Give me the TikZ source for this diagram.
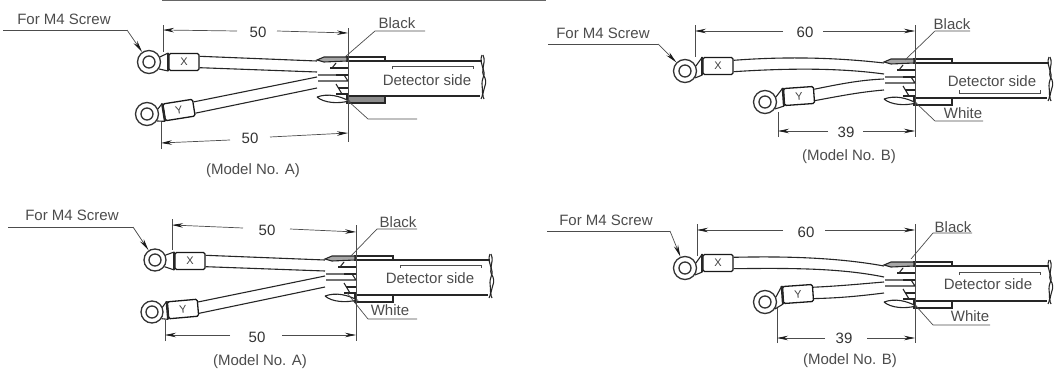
\documentclass[tikz,border=0pt]{standalone}
\usepackage{fontspec}
\setmainfont{Liberation Sans}
\usetikzlibrary{arrows.meta}
\tikzset{
  wire/.style={line width=1.1pt,black!85},
  neck/.style={line width=2.2pt,black!85},
  thin line/.style={line width=0.8pt,black!70},
  dim/.style={line width=0.7pt,black!70,-{Stealth[length=11pt,width=4.5pt,black!90]}},
  ext/.style={line width=0.7pt,black!70},
  lead/.style={line width=0.7pt,black!70},
  screwlead/.style={lead,-{Stealth[length=12pt,width=4.5pt,black!90]}},
  txt/.style={font=\fontsize{15}{17}\selectfont,text=black!70,inner sep=0pt},
  lentxt/.style={txt,font=\fontsize{15}{17}\selectfont,text=black!80},
  ringnode/.style={circle,draw=black!80,line width=1.3pt,minimum size=#1,inner sep=0pt,fill=white},
  tube/.style={draw=black!90,line width=1.3pt,rounded corners=1.5pt,fill=white,minimum width=30pt,minimum height=17pt,inner sep=0pt,font=\fontsize{11}{12}\selectfont,text=black!75},
  pics/detectorend/.style n args={3}{code={
    \draw[wire,fill=white] (-1,-3) -- (37,-3) -- (37,1) -- (-1,1) -- cycle;
    \draw[wire,fill=#1] (-1,36) -- (37,36) -- (37,43) -- (-1,43) -- cycle;
    \draw[wire,line width=1.3pt] (37,1) -- (134,1);
    \draw[wire,line width=1.5pt] (37,36) -- (132,36);
    \draw[thin line] (44,#2+#3) -- (44,#2) -- (125,#2) -- (125,#2+#3);
    % crimps
    \draw[wire,fill=black!35] (-31,0) -- (-24,-3) -- (-1,-3) -- (-1,1) -- (-24,2) -- cycle;
    \draw[wire,fill=white] (-31,37) .. controls (-20,33) and (-8,36) .. (1,41) .. controls (-10,44) and (-24,43) .. (-31,37);
    \draw[wire] (-30,15) -- (-4,15) -- (0,21) -- (-30,21);
    \draw[wire] (-18,8) -- (0,8) (-12,15) -- (0,15) (-10,28) -- (0,28) (-12,34) -- (0,34);
    \draw[wire] (-12,3) -- (-16,8) (-12,24) -- (-6,34);
    % break of the cable
    \draw[wire] (134,-5) .. controls (130,4) and (139,10) .. (135,18) .. controls (132,26) and (137,32) .. (133,39);
    \draw[wire] (135,-5) .. controls (139,4) and (131,10) .. (137,18) .. controls (140,26) and (132,32) .. (136,39);
    \coordinate (-xtop) at (-31,1);
    \coordinate (-xbot) at (-31,12);
    \coordinate (-ytop) at (-31,17);
    \coordinate (-ybot) at (-31,28);
  }},
}
\begin{document}
\begin{tikzpicture}[x=1pt,y=-1pt]
\useasboundingbox (0,0) rectangle (1060,372);
\draw[black!60,line width=0.6pt] (162,0.4) -- (546,0.4);

% top left, model A
\node[txt] (screwa) at (64,19) {For M4 Screw};
\coordinate (screwastart) at (3,30);
\coordinate (screwabend) at (127,30);
\node[ringnode=23pt] (ringxa) at (149,62) {};
\node[ringnode=12pt] at (ringxa) {};
\node[ringnode=23pt] (ringya) at (147,114) {};
\node[ringnode=12pt] at (ringya) {};
\node[tube] (tubexa) at (184,62) {X};
\node[tube,rotate=9] (tubeya) at (179,110) {Y};
\draw[wire] (ringxa.25) -- (tubexa.150) (ringxa.-35) -- (tubexa.210);
\draw[wire] (ringya.25) -- (tubeya.150) (ringya.-35) -- (tubeya.210);
\draw[neck] (tubexa.north west) -- (tubexa.south west);
\draw[neck] (tubeya.north west) -- (tubeya.south west);
\pic (conna) at (348,60) {detectorend={black!45}{6}{3}};
\node[txt] (sidea) at (427,80) {Detector side};
\draw[wire] (tubexa.20) -- (conna-xtop);
\draw[wire] (tubexa.-20) -- (conna-xbot);
\draw[wire] (tubeya.20) -- (conna-ytop);
\draw[wire] (tubeya.-20) -- (conna-ybot);
\coordinate (dima1) at (163,30);
\coordinate (dima2) at (348,33);
\coordinate (dima3) at (161,143);
\coordinate (dima4) at (348,133);
\draw[ext] (dima1) ++(0,-5) -- (163,52);
\draw[ext] (348,28) -- (348,142);
\draw[ext] (dima3) ++(0,6) -- (161,122);
\node[lentxt] (lena) at (258,32) {50};
\node[lentxt] (lenb) at (250,138) {50};
\draw[dim] (237,31) -- (dima1);
\draw[dim] (277,31) -- (dima2);
\draw[dim] (230,140) -- (dima3);
\draw[dim] (270,137) -- (dima4);
\node[txt] (blacka) at (397,23) {Black};
\coordinate (blackastart) at (345,57);
\coordinate (blackabend) at (375,31);
\coordinate (blackaend) at (425,31);
\coordinate (whiteastart) at (347,100);
\coordinate (whiteabend) at (368,119);
\coordinate (whiteaend) at (417,119);
\draw[lead] (blackastart) -- (blackabend) -- (blackaend);
\draw[lead] (whiteastart) -- (whiteabend) -- (whiteaend);
\draw[lead] (screwastart) -- (screwabend);
\draw[screwlead] (screwabend) -- (ringxa);
\node[txt] (modela) at (253,171) {(Model No. A)};

% top right, model B
\node[txt] (screwb) at (603,33) {For M4 Screw};
\coordinate (screwbstart) at (548,44);
\coordinate (screwbbend) at (658,44);
\node[ringnode=23pt] (ringxb) at (685,71) {};
\node[ringnode=12pt] at (ringxb) {};
\node[ringnode=23pt] (ringyb) at (765,102) {};
\node[ringnode=12pt] at (ringyb) {};
\node[tube] (tubexb) at (718,66) {X};
\node[tube,rotate=4] (tubeyb) at (799,96) {Y};
\draw[wire] (ringxb.25) -- (tubexb.150) (ringxb.-35) -- (tubexb.210);
\draw[wire] (ringyb.25) -- (tubeyb.150) (ringyb.-35) -- (tubeyb.210);
\draw[neck] (tubexb.north west) -- (tubexb.south west);
\draw[neck] (tubeyb.north west) -- (tubeyb.south west);
\pic (connb) at (915,62) {detectorend={white}{31}{-3}};
\node[txt] (sideb) at (992,81) {Detector side};
\draw[wire] (tubexb.20) .. controls (790,56) and (840,58) .. (connb-xtop);
\draw[wire] (tubexb.-20) .. controls (790,68) and (840,68) .. (connb-xbot);
\draw[wire] (tubeyb.20) .. controls (840,84) and (860,80) .. (connb-ytop);
\draw[wire] (tubeyb.-20) .. controls (840,96) and (860,92) .. (connb-ybot);
\coordinate (dimb1) at (695,31);
\coordinate (dimb2) at (915,31);
\coordinate (dimb3) at (778,131);
\coordinate (dimb4) at (915,131);
\draw[ext] (dimb1) ++(0,-6) -- (695,57);
\draw[ext] (dimb2) ++(0,-6) -- (915,137);
\draw[ext] (dimb3) ++(0,6) -- (778,112);
\node[lentxt] (lenc) at (805,32) {60};
\node[lentxt] (lend) at (846,132) {39};
\draw[dim] (783,31) -- (dimb1);
\draw[dim] (823,31) -- (dimb2);
\draw[dim] (828,131) -- (dimb3);
\draw[dim] (863,131) -- (dimb4);
\node[txt] (blackb) at (952,24) {Black};
\coordinate (blackbstart) at (905,60);
\coordinate (blackbbend) at (935,31);
\coordinate (blackbend) at (970,31);
\node[txt] (whiteb) at (963,113) {White};
\coordinate (whitebstart) at (916,103);
\coordinate (whitebbend) at (935,121);
\coordinate (whitebend) at (983,121);
\draw[lead] (blackbstart) -- (blackbbend) -- (blackbend);
\draw[lead] (whitebstart) -- (whitebbend) -- (whitebend);
\draw[lead] (screwbstart) -- (screwbbend);
\draw[screwlead] (screwbbend) -- (ringxb);
\node[txt] (modelb) at (849,157) {(Model No. B)};

% bottom left, model A
\node[txt] (screwc) at (72,215) {For M4 Screw};
\coordinate (screwcstart) at (8,227);
\coordinate (screwcbend) at (133,227);
\node[ringnode=22pt] (ringxc) at (155,260) {};
\node[ringnode=12pt] at (ringxc) {};
\node[ringnode=22pt] (ringyc) at (152,312) {};
\node[ringnode=12pt] at (ringyc) {};
\node[tube] (tubexc) at (190,261) {X};
\node[tube,rotate=5] (tubeyc) at (183,309) {Y};
\draw[wire] (ringxc.25) -- (tubexc.150) (ringxc.-35) -- (tubexc.210);
\draw[wire] (ringyc.25) -- (tubeyc.150) (ringyc.-35) -- (tubeyc.210);
\draw[neck] (tubexc.north west) -- (tubexc.south west);
\draw[neck] (tubeyc.north west) -- (tubeyc.south west);
\pic (connc) at (356,259) {detectorend={white}{6}{3}};
\node[txt] (sidec) at (430,278) {Detector side};
\draw[wire] (tubexc.20) -- (connc-xtop);
\draw[wire] (tubexc.-20) -- (connc-xbot);
\draw[wire] (tubeyc.20) -- (connc-ytop);
\draw[wire] (tubeyc.-20) -- (connc-ybot);
\coordinate (dimc1) at (172,225);
\coordinate (dimc2) at (356,232);
\coordinate (dimc3) at (165,335);
\coordinate (dimc4) at (356,335);
\draw[ext] (dimc1) ++(0,-6) -- (172,250);
\draw[ext] (356,225) -- (356,341);
\draw[ext] (dimc3) ++(0,6) -- (165,320);
\node[lentxt] (lene) at (267,230) {50};
\node[lentxt] (lenf) at (257,337) {50};
\draw[dim] (243,228) -- (dimc1);
\draw[dim] (290,229) -- (dimc2);
\draw[dim] (230,335) -- (dimc3);
\draw[dim] (282,335) -- (dimc4);
\node[txt] (blackc) at (398,222) {Black};
\coordinate (blackcstart) at (350,257);
\coordinate (blackcbend) at (377,229);
\coordinate (blackcend) at (417,229);
\node[txt] (whitec) at (390,310) {White};
\coordinate (whitecstart) at (347,293);
\coordinate (whitecbend) at (368,319);
\coordinate (whitecend) at (417,319);
\draw[lead] (blackcstart) -- (blackcbend) -- (blackcend);
\draw[lead] (whitecstart) -- (whitecbend) -- (whitecend);
\draw[lead] (screwcstart) -- (screwcbend);
\draw[screwlead] (screwcbend) -- (ringxc);
\node[txt] (modelc) at (260,362) {(Model No. A)};

% bottom right, model B
\node[txt] (screwd) at (606,220) {For M4 Screw};
\coordinate (screwdstart) at (547,231);
\coordinate (screwdbend) at (670,231);
\node[ringnode=23pt] (ringxd) at (685,268) {};
\node[ringnode=12pt] at (ringxd) {};
\node[ringnode=23pt] (ringyd) at (765,302) {};
\node[ringnode=12pt] at (ringyd) {};
\node[tube] (tubexd) at (718,263) {X};
\node[tube,rotate=4] (tubeyd) at (798,294) {Y};
\draw[wire] (ringxd.25) -- (tubexd.150) (ringxd.-35) -- (tubexd.210);
\draw[wire] (ringyd.25) -- (tubeyd.150) (ringyd.-35) -- (tubeyd.210);
\draw[neck] (tubexd.north west) -- (tubexd.south west);
\draw[neck] (tubeyd.north west) -- (tubeyd.south west);
\pic (connd) at (915,265) {detectorend={white}{7}{3}};
\node[txt] (sided) at (988,284) {Detector side};
\draw[wire] (tubexd.20) .. controls (790,256) and (840,258) .. (connd-xtop);
\draw[wire] (tubexd.-20) .. controls (790,268) and (840,268) .. (connd-xbot);
\draw[wire] (tubeyd.20) .. controls (840,286) and (860,284) .. (connd-ytop);
\draw[wire] (tubeyd.-20) .. controls (840,298) and (860,296) .. (connd-ybot);
\coordinate (dimd1) at (697,230);
\coordinate (dimd2) at (915,230);
\coordinate (dimd3) at (777,338);
\coordinate (dimd4) at (915,338);
\draw[ext] (dimd1) ++(0,-6) -- (697,256);
\draw[ext] (dimd2) ++(0,-6) -- (915,343);
\draw[ext] (dimd3) ++(0,5) -- (777,308);
\node[lentxt] (leng) at (806,232) {60};
\node[lentxt] (lenh) at (844,338) {39};
\draw[dim] (783,230) -- (dimd1);
\draw[dim] (825,230) -- (dimd2);
\draw[dim] (825,338) -- (dimd3);
\draw[dim] (867,338) -- (dimd4);
\node[txt] (blackd) at (953,227) {Black};
\coordinate (blackdstart) at (911,259);
\coordinate (blackdbend) at (933,233);
\coordinate (blackdend) at (972,233);
\node[txt] (whited) at (970,316) {White};
\coordinate (whitedstart) at (916,306);
\coordinate (whitedbend) at (933,325);
\coordinate (whitedend) at (990,325);
\draw[lead] (blackdstart) -- (blackdbend) -- (blackdend);
\draw[lead] (whitedstart) -- (whitedbend) -- (whitedend);
\draw[lead] (screwdstart) -- (screwdbend);
\draw[screwlead] (screwdbend) -- (ringxd);
\node[txt] (modeld) at (850,361) {(Model No. B)};
\end{tikzpicture}
\end{document}
